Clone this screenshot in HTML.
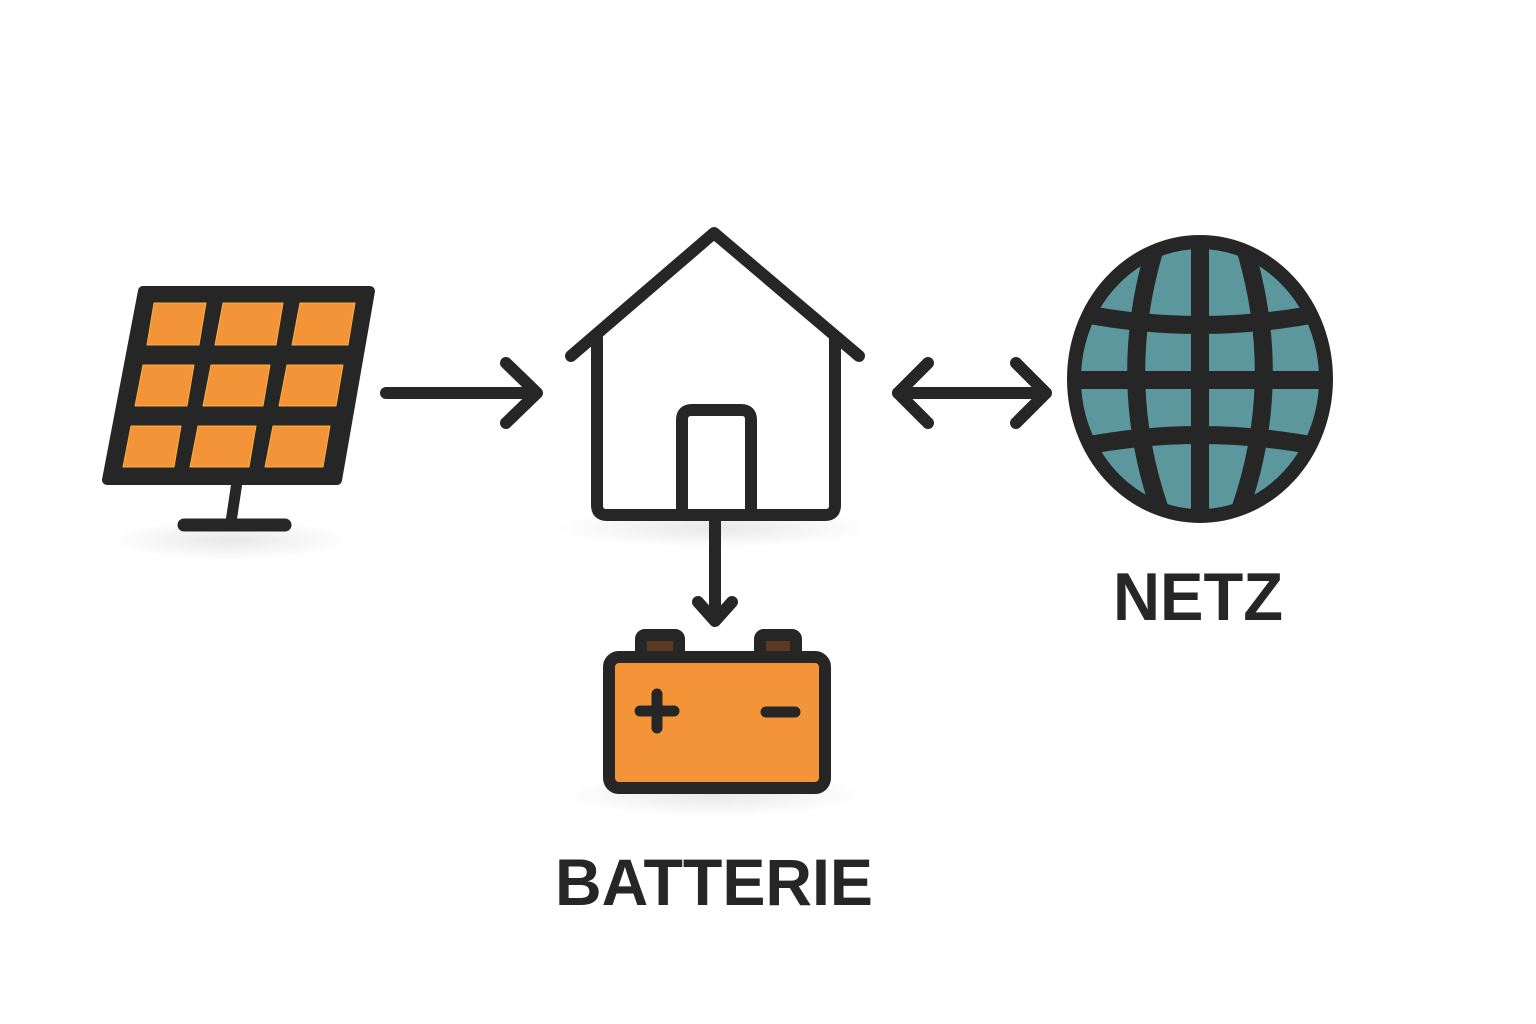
<!DOCTYPE html>
<html><head><style>
html,body{margin:0;padding:0;background:#fff;}
svg{display:block;}
</style></head><body>
<svg width="1536" height="1024" viewBox="0 0 1536 1024" xmlns="http://www.w3.org/2000/svg">
<defs>
<radialGradient id="sh"><stop offset="0" stop-color="#e8e8e8"/><stop offset="1" stop-color="#e8e8e8" stop-opacity="0"/></radialGradient>
<clipPath id="gc"><ellipse cx="1200" cy="379" rx="126" ry="137"/></clipPath>
</defs>
<ellipse cx="230" cy="540" rx="120" ry="20" fill="url(#sh)"/>
<ellipse cx="714" cy="528" rx="160" ry="20" fill="url(#sh)"/>
<ellipse cx="714" cy="795" rx="150" ry="22" fill="url(#sh)"/>

<g stroke="#262626" stroke-linecap="round" stroke-linejoin="round">
<polygon points="143,291 370,291 337,480 107,480" fill="#262626" stroke-width="10"/>
<g fill="#f29437" stroke="#f9b040" stroke-width="1">
<polygon points="154,303 206,303 199,345 147,345"/>
<polygon points="223,303 283,303 276,345 215,345"/>
<polygon points="300,303 355,303 348,345 292,345"/>
<polygon points="143,365 194,365 187,406 135,406"/>
<polygon points="211,365 270,365 263,406 203,406"/>
<polygon points="287,365 343,365 336,406 279,406"/>
<polygon points="131,426 181,426 174,467 123,467"/>
<polygon points="198,426 256,426 249,467 190,467"/>
<polygon points="273,426 330,426 323,467 265,467"/>
</g>
<line x1="237" y1="482" x2="231" y2="522" stroke-width="11" fill="none"/>
<line x1="184" y1="525" x2="285" y2="525" stroke-width="13" fill="none"/>
</g>

<g stroke="#262626" stroke-width="12" stroke-linecap="round" stroke-linejoin="round" fill="none">
<line x1="386" y1="393" x2="536" y2="393"/>
<polyline points="506,363 537,393 506,423"/>
<line x1="898" y1="393" x2="1045" y2="393"/>
<polyline points="928,363 898,393 928,423"/>
<polyline points="1016,363 1046,393 1016,423"/>
<line x1="715" y1="515" x2="715" y2="620"/>
<polyline points="698,602 715,621 732,602"/>
</g>

<g stroke="#262626" stroke-width="12" stroke-linecap="round" stroke-linejoin="round" fill="none">
<polyline points="571,356 714,233 859,356"/>
<path d="M597,338 V505 Q597,515 607,515 H825 Q835,515 835,505 V338"/>
<path d="M682,515 V420 Q682,410 692,410 H741 Q751,410 751,420 V515"/>
</g>

<ellipse cx="1200" cy="379" rx="126" ry="137" fill="#5b979c" stroke="#262626" stroke-width="14"/>
<g clip-path="url(#gc)" stroke="#262626" stroke-width="18" fill="none">
<line x1="1200" y1="230" x2="1200" y2="530"/>
<line x1="1060" y1="380" x2="1340" y2="380"/>
<path d="M1155,248 Q1115,380 1160,510"/>
<path d="M1245,248 Q1285,380 1240,510"/>
<path d="M1065,310 Q1200,340 1335,310"/>
<path d="M1065,450 Q1200,420 1335,450"/>
</g>

<g stroke="#262626" stroke-width="12" stroke-linejoin="round">
<rect x="641" y="635" width="38" height="22" rx="4" fill="#5a3a22"/>
<rect x="760" y="635" width="36" height="22" rx="4" fill="#5a3a22"/>
<rect x="609" y="657" width="216" height="131" rx="10" fill="#f29437"/>
</g>
<g stroke="#262626" stroke-width="11" stroke-linecap="round">
<line x1="640" y1="711" x2="674" y2="711"/>
<line x1="657" y1="694" x2="657" y2="728"/>
<line x1="766" y1="712" x2="795" y2="712"/>
</g>

<text x="714" y="905" text-anchor="middle" font-family="Liberation Sans, sans-serif" font-weight="bold" font-size="66" fill="#262626" textLength="318" lengthAdjust="spacingAndGlyphs">BATTERIE</text>
<text x="1198" y="620" text-anchor="middle" font-family="Liberation Sans, sans-serif" font-weight="bold" font-size="68" fill="#262626" textLength="170" lengthAdjust="spacingAndGlyphs">NETZ</text>
</svg>
</body></html>
